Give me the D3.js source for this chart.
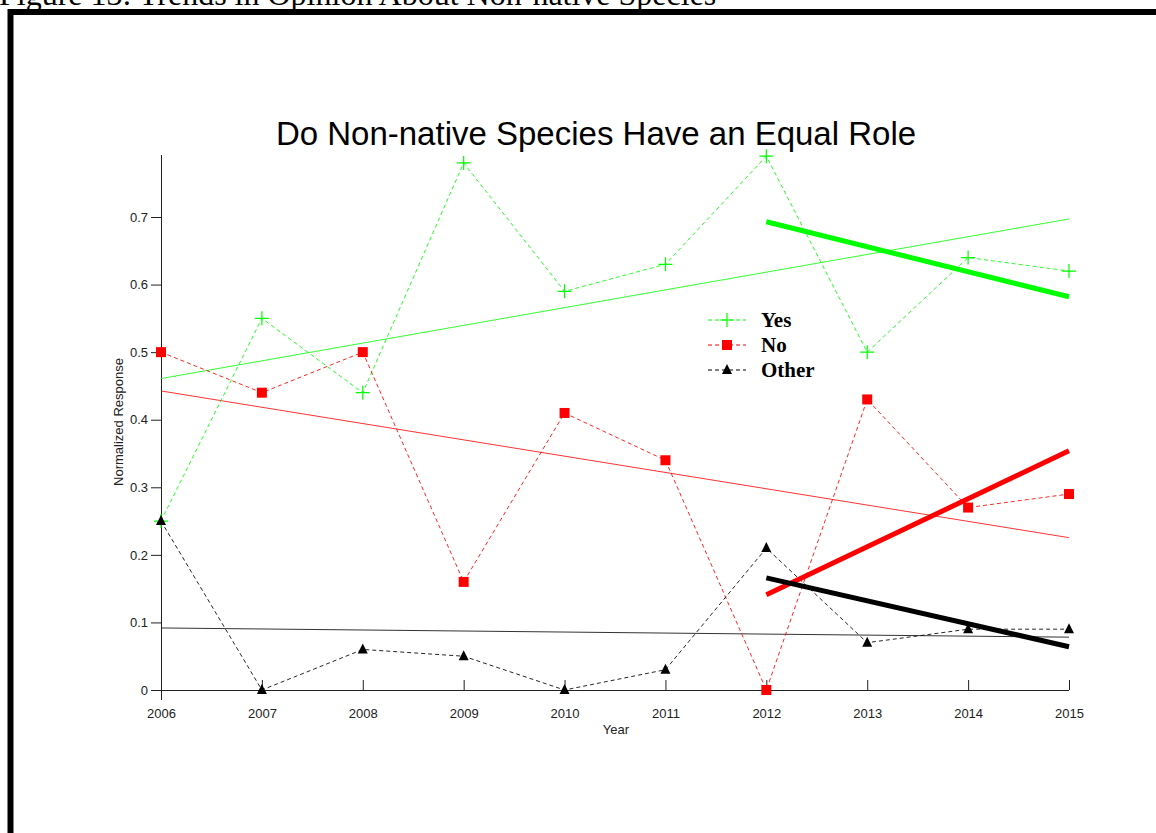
<!doctype html>
<html lang="en">
<head>
    <meta charset="utf-8">
    <title>Non-native Species Trends</title>
    <script src="https://d3js.org/d3.v7.min.js"></script>
    <style>
        body { margin: 0; background: #fff; }
        svg { display: block; }
    </style>
</head>
<body>
<script>
    var width = 1156, height = 833;

    // data
    var years = [2006, 2007, 2008, 2009, 2010, 2011, 2012, 2013, 2014, 2015];
    var yesValues = [0.25, 0.55, 0.44, 0.78, 0.59, 0.63, 0.79, 0.50, 0.64, 0.62];
    var noValues = [0.50, 0.44, 0.50, 0.16, 0.41, 0.34, 0.00, 0.43, 0.27, 0.29];
    var otherValues = [0.25, 0.00, 0.06, 0.05, 0.00, 0.03, 0.21, 0.07, 0.09, 0.09];
    var seriesNames = ['Yes', 'No', 'Other'];
    var seriesColors = ['#00ff00', '#ff0000', '#000000'];
    var yTicks = [0, 0.1, 0.2, 0.3, 0.4, 0.5, 0.6, 0.7];
    var recentFrom = 2012;

    var series = seriesNames.map(function(name, i) {
        return {name: name, color: seriesColors[i], values: [yesValues, noValues, otherValues][i]};
    });

    var svg = d3.select('body').append('svg').attr('width', width).attr('height', height);

    // caption above the frame (cut off at the top in the original)
    svg.append('text')
        .attr('x', -1).attr('y', 5)
        .style('font-family', '"Liberation Serif", "Times New Roman", serif')
        .style('font-size', '32px')
        .text('Figure 13: Trends in Opinion About Non-native Species');

    // frame
    svg.append('path')
        .attr('d', 'M10.5,' + height + 'V12H' + width)
        .attr('fill', 'none').attr('stroke', '#000').attr('stroke-width', 6);

    var x = d3.scaleLinear().domain([2006, 2015]).range([161, 1069]);
    var y = d3.scaleLinear().domain([0, 0.7]).range([690, 217]);

    var font = '"Liberation Sans", Arial, sans-serif';

    // title
    svg.append('text')
        .attr('x', 596).attr('y', 145)
        .attr('text-anchor', 'middle')
        .style('font-family', font).style('font-size', '33px')
        .text('Do Non-native Species Have an Equal Role');

    // axes
    var xAxis = svg.append('g')
        .attr('transform', 'translate(0,' + y(0) + ')')
        .call(d3.axisTop(x).tickValues(years).tickFormat(d3.format('d')).tickSize(10).tickSizeOuter(0));
    xAxis.selectAll('text').attr('y', 28).attr('dy', 0);
    xAxis.select('.domain').attr('d', 'M151,0.5H' + x(2015));

    var yAxis = svg.append('g')
        .attr('transform', 'translate(' + x(2006) + ',0)')
        .call(d3.axisLeft(y).tickValues(yTicks).tickFormat(function(d) { return d === 0 ? '0' : d3.format('.1f')(d); }).tickSize(10).tickSizeOuter(0));
    yAxis.select('.domain').attr('d', 'M0.5,155V700');

    svg.selectAll('.tick text').style('font-family', font).style('font-size', '13px').attr('fill', '#222');
    svg.selectAll('.tick line, .domain').attr('stroke', '#222');

    svg.append('text')
        .attr('x', 616).attr('y', 734)
        .attr('text-anchor', 'middle')
        .style('font-family', font).style('font-size', '13px').attr('fill', '#222')
        .text('Year');

    svg.append('text')
        .attr('transform', 'translate(123,422) rotate(-90)')
        .attr('text-anchor', 'middle')
        .style('font-family', font).style('font-size', '13px').attr('fill', '#222')
        .text('Normalized Response');

    // least squares fit over a range of years
    function fit(xs, ys) {
        var mx = d3.mean(xs), my = d3.mean(ys);
        var sxy = d3.sum(xs, function(d, i) { return (d - mx) * (ys[i] - my); });
        var sxx = d3.sum(xs, function(d) { return (d - mx) * (d - mx); });
        var b = sxy / sxx;
        return function(v) { return my + b * (v - mx); };
    }

    var line = d3.line().x(function(d) { return x(d[0]); }).y(function(d) { return y(d[1]); });

    // full-range trend lines
    series.forEach(function(s) {
        var f = fit(years, s.values);
        svg.append('path')
            .attr('d', line([[years[0], f(years[0])], [years[9], f(years[9])]]))
            .attr('fill', 'none').attr('stroke', s.color).attr('stroke-width', 1)
            .attr('stroke-opacity', 0.8);
    });

    // dashed data lines and markers
    series.forEach(function(s) {
        var pts = years.map(function(yr, i) { return [yr, s.values[i]]; });
        svg.append('path')
            .attr('d', line(pts))
            .attr('fill', 'none').attr('stroke', s.color).attr('stroke-width', 1)
            .attr('stroke-dasharray', '4,3').attr('stroke-opacity', 0.85);
    });

    function drawMarker(g, name, color, cx, cy) {
        if (name === 'Yes') {
            g.append('path')
                .attr('d', 'M' + (cx - 7) + ',' + cy + 'H' + (cx + 7) + 'M' + cx + ',' + (cy - 7) + 'V' + (cy + 7))
                .attr('stroke', color).attr('stroke-width', 1.2).attr('fill', 'none');
        } else if (name === 'No') {
            g.append('rect')
                .attr('x', cx - 5).attr('y', cy - 5).attr('width', 10).attr('height', 10)
                .attr('fill', color);
        } else {
            g.append('path')
                .attr('d', 'M' + cx + ',' + (cy - 6) + 'L' + (cx + 5) + ',' + (cy + 4) + 'L' + (cx - 5) + ',' + (cy + 4) + 'Z')
                .attr('fill', color);
        }
    }

    series.forEach(function(s) {
        var g = svg.append('g');
        years.forEach(function(yr, i) {
            drawMarker(g, s.name, s.color, x(yr), y(s.values[i]));
        });
    });

    // recent trend lines (thick)
    var recentYears = years.filter(function(d) { return d >= recentFrom; });
    series.forEach(function(s) {
        var vals = s.values.slice(years.indexOf(recentFrom));
        var f = fit(recentYears, vals);
        var a = recentYears[0], b = recentYears[recentYears.length - 1];
        svg.append('path')
            .attr('d', line([[a, f(a)], [b, f(b)]]))
            .attr('fill', 'none').attr('stroke', s.color).attr('stroke-width', 5);
    });

    // legend
    var legend = svg.append('g');
    series.forEach(function(s, i) {
        var ly = 320 + i * 25;
        legend.append('line')
            .attr('x1', 708).attr('x2', 746).attr('y1', ly).attr('y2', ly)
            .attr('stroke', s.color).attr('stroke-dasharray', '4,3');
        drawMarker(legend, s.name, s.color, 727, ly);
        legend.append('text')
            .attr('x', 761).attr('y', ly + 7)
            .style('font-family', '"Liberation Serif", "Times New Roman", serif')
            .style('font-size', '21px').style('font-weight', 'bold')
            .text(s.name);
    });
</script>
</body>
</html>
